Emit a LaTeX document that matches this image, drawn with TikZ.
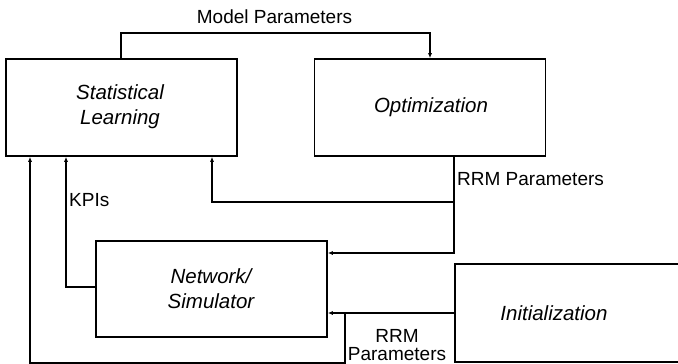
\documentclass[tikz,border=0pt]{standalone}
\usepackage{fontspec}
\setmainfont{Liberation Sans}
\usetikzlibrary{arrows.meta}
\begin{document}
\begin{tikzpicture}[x=1pt, y=-1pt,
	block/.style={draw, rectangle, line width=1.6pt, minimum width=231pt, minimum height=97pt, inner sep=0pt},
	title/.style={font=\fontsize{20.5}{25}\selectfont\itshape, align=center},
	lbl/.style={font=\fontsize{19}{18}\selectfont, inner sep=0pt},
	link/.style={line width=1.6pt, -{Latex[length=5pt,width=4pt]}}]
		\useasboundingbox (0,0) rectangle (678,364);

		% Blocks
		\node[block] (stat) at (121.5,107.5) {};
		\node[title] (stattxt) at (120,107) {Statistical\\Learning};
		\node[block] (opt) at (430,107.5) {};
		\node[title] (opttxt) at (431,107.5) {Optimization};
		\node[block, minimum height=96pt] (net) at (211.5,289) {};
		\node[title] (nettxt) at (211,289) {Network/\\Simulator};
		\node[block, minimum height=98pt] (init) at (570.5,313) {};
		\node[title] (inittxt) at (554,313) {Initialization};

		% Model Parameters
		\draw[link] (stat.north -| 121,0) -- (121,33) -| (opt.north);
		\node[lbl] (mplbl) at (274.5,17) {Model Parameters};

		% RRM Parameters from Optimization
		\draw[link] (opt.south -| 454,0) |- (net.east |- 0,253);
		\draw[link] (454,202) -| (stat.south -| 212,0);
		\node[lbl, anchor=west] (rrmlbl) at (457,179) {RRM Parameters};

		% KPIs
		\draw[link] (net.west |- 0,287) -| (stat.south -| 66,0);
		\node[lbl, anchor=west] (kpilbl) at (69,200) {KPIs};

		% Initialization
		\draw[link] (init.west) -- (net.east |- init.west);
		\draw[link] (init.west -| 345,0) |- (30,363) -- (stat.south -| 30,0);
		\node[lbl, align=center] (initlbl) at (397,345) {RRM\\Parameters};
	\end{tikzpicture}
\end{document}
